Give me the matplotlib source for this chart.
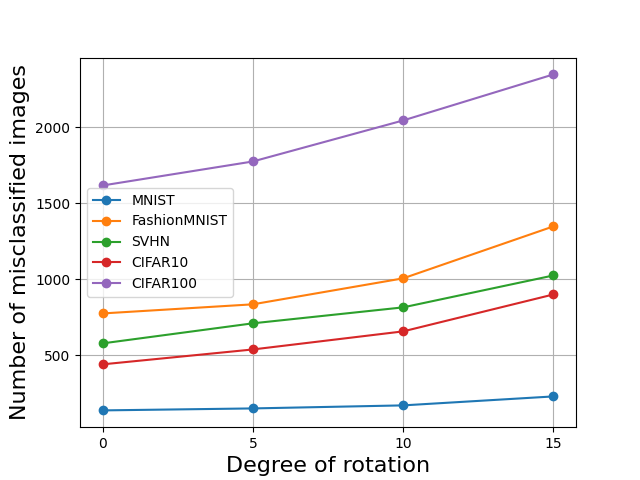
import matplotlib
matplotlib.use("Agg")
import matplotlib.pyplot as plt

degrees = [0, 5, 10, 15]
mnist = [138, 151, 171, 230]
fashion = [776, 836, 1007, 1349]
svhn = [579, 711, 816, 1026]
cifar10 = [441, 539, 658, 901]
cifar100 = [1618, 1776, 2046, 2349]

series = [("MNIST", mnist), ("FashionMNIST", fashion), ("SVHN", svhn),
          ("CIFAR10", cifar10), ("CIFAR100", cifar100)]

fig, ax = plt.subplots(figsize=(6.4, 4.8), dpi=100)
for name, vals in series:
    ax.plot(degrees, vals, marker='o', label=name)
ax.set_xticks(degrees)
ax.set_xlabel("Degree of rotation", fontsize=16)
ax.set_ylabel("Number of misclassified images", fontsize=16)
ax.grid(True)
ax.legend(loc='center left')
fig.savefig("out.png")
